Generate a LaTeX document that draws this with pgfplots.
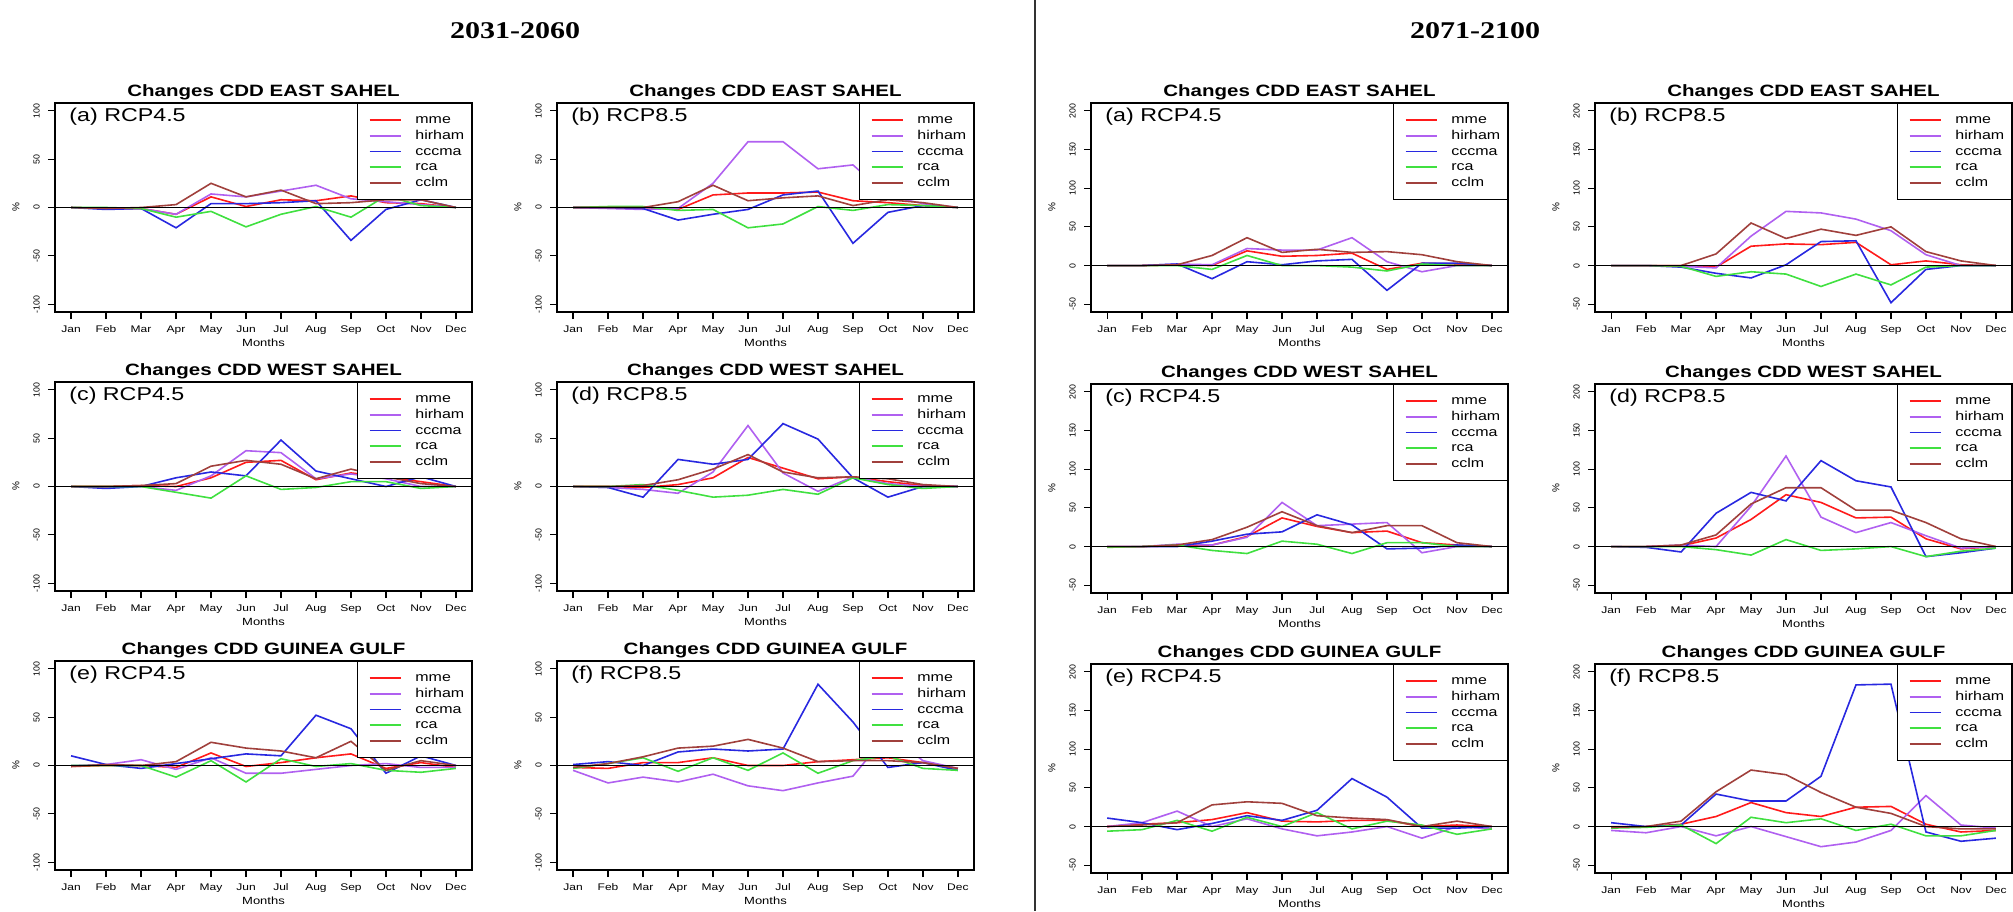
\documentclass[border=0pt]{standalone}
\usepackage{pgfplots}
\usepackage{pgfplotstable}
\pgfplotsset{compat=1.18}
\usepackage{fontspec}
\setmainfont{Liberation Sans}[FakeStretch=1.25]
\newfontfamily\yfont{Liberation Sans}
\newfontfamily\headfont{Liberation Serif}[FakeStretch=1.25]

\definecolor{cmme}{HTML}{FF1A1A}
\definecolor{chir}{HTML}{B060F0}
\definecolor{ccccma}{HTML}{2828E0}
\definecolor{crca}{HTML}{40E040}
\definecolor{ccclm}{HTML}{A0403C}

\newcommand\tickfont{\fontsize{4.8}{5.5}\selectfont}
\newcommand\ytickfont{\yfont\fontsize{4.4}{5}\selectfont}
\newcommand\monthfont{\fontsize{5.2}{6}\selectfont}
\newcommand\pctfont{\yfont\fontsize{5}{6}\selectfont}
\newcommand\titlefont{\bfseries\fontsize{8.2}{9.5}\selectfont}
\newcommand\legfont{\fontsize{6.4}{7.5}\selectfont}
\newcommand\panelfont{\fontsize{9.3}{11}\selectfont}

% 2031-2060
\pgfplotstableread{
m mme hirham cccma rca cclm
0 0 0 0 0 0
1 -1 -1 -2 0 -1
2 -1 -1 -1 -1 0
3 -7 -7 -21 -10 3
4 11 14 4 -4 25
5 1 11 4 -20 11
6 8 17 5 -7 18
7 7 23 7 1 4
8 12 9 -34 -10 5
9 5 6 -2 12 8
10 4 3 8 2 8
11 0 0 0 0 0
}\tabLa
\pgfplotstableread{
m mme hirham cccma rca cclm
0 0 0 0 0 0
1 0 -1 0 1 0
2 0 -2 -1 1 0
3 -2 -1 -13 -3 6
4 13 25 -7 -2 23
5 15 68 -2 -21 7
6 15 68 13 -17 10
7 16 40 17 1 12
8 7 44 -37 -3 2
9 5 12 -5 3 8
10 2 4 2 2 5
11 0 0 0 0 0
}\tabLb
\pgfplotstableread{
m mme hirham cccma rca cclm
0 0 0 0 0 0
1 0 -1 -2 0 0
2 1 0 0 0 1
3 0 -4 9 -6 3
4 9 11 15 -12 21
5 25 37 11 11 27
6 27 35 48 -3 23
7 7 8 16 -1 8
8 14 13 8 5 18
9 10 8 0 5 10
10 5 0 10 -2 3
11 0 0 0 0 0
}\tabLc
\pgfplotstableread{
m mme hirham cccma rca cclm
0 0 0 0 0 0
1 0 -1 -1 0 0
2 -1 -3 -11 2 1
3 2 -7 28 -4 7
4 9 15 23 -11 18
5 30 63 28 -9 33
6 19 14 65 -3 15
7 8 -5 49 -8 9
8 10 10 9 9 10
9 5 3 -11 2 8
10 1 0 0 -2 2
11 0 0 0 0 0
}\tabLd
\pgfplotstableread{
m mme hirham cccma rca cclm
0 -1 0 10 0 -1
1 0 1 1 0 1
2 0 6 -3 0 0
3 -2 -4 2 -12 4
4 13 8 7 5 24
5 -1 -8 12 -17 18
6 3 -8 10 7 15
7 8 -4 52 -1 8
8 12 0 38 2 25
9 -3 2 -8 -5 -5
10 3 -2 10 -7 5
11 -2 -2 0 -3 0
}\tabLe
\pgfplotstableread{
m mme hirham cccma rca cclm
0 -2 -5 1 -3 -2
1 -3 -18 4 2 2
2 3 -12 0 8 9
3 3 -17 14 -6 18
4 8 -9 17 8 20
5 0 -21 15 -5 27
6 0 -26 17 13 18
7 4 -18 84 -8 4
8 6 -11 45 5 5
9 8 33 -2 10 5
10 3 5 3 -3 3
11 -3 -3 -5 -5 -3
}\tabLf
% 2071-2100
\pgfplotstableread{
m mme hirham cccma rca cclm
0 0 0 0 0 0
1 0 0 0 0 0
2 1 2 2 0 1
3 0 1 -17 -5 13
4 19 22 5 13 36
5 12 20 1 0 17
6 13 20 6 0 21
7 16 36 8 -2 17
8 -5 5 -32 -7 18
9 3 -8 3 2 14
10 2 0 3 0 5
11 0 0 0 0 0
}\tabRa
\pgfplotstableread{
m mme hirham cccma rca cclm
0 0 0 0 0 0
1 0 0 0 0 0
2 0 -1 -2 -1 0
3 -2 -3 -10 -14 15
4 25 38 -16 -8 55
5 28 70 1 -11 35
6 27 68 31 -27 47
7 30 60 32 -11 39
8 1 45 -48 -25 50
9 6 14 -5 -2 18
10 1 0 0 0 6
11 0 0 0 0 0
}\tabRb
\pgfplotstableread{
m mme hirham cccma rca cclm
0 0 0 0 -1 0
1 0 0 0 0 0
2 1 3 0 2 2
3 2 2 7 -5 9
4 13 12 16 -9 25
5 37 57 19 7 45
6 26 27 41 3 27
7 18 29 28 -9 18
8 20 31 -3 5 27
9 5 -8 -2 5 27
10 2 0 2 0 5
11 0 0 0 0 0
}\tabRc
\pgfplotstableread{
m mme hirham cccma rca cclm
0 0 0 0 0 0
1 0 0 -1 0 0
2 1 2 -7 0 2
3 11 0 43 -4 15
4 35 52 70 -11 55
5 67 117 59 9 76
6 57 38 111 -5 76
7 37 18 85 -3 47
8 38 31 77 0 47
9 10 14 -13 -13 31
10 -3 -2 -8 -6 10
11 0 0 -2 -2 0
}\tabRd
\pgfplotstableread{
m mme hirham cccma rca cclm
0 0 0 11 -6 0
1 3 5 5 -4 2
2 5 20 -4 8 5
3 9 0 4 -6 28
4 18 10 14 12 32
5 7 -3 8 0 30
6 6 -12 21 18 14
7 8 -7 62 -3 11
8 8 0 38 7 9
9 0 -15 -2 2 0
10 2 0 -2 -10 7
11 0 -3 0 -3 0
}\tabRe
\pgfplotstableread{
m mme hirham cccma rca cclm
0 0 -5 5 -2 -1
1 0 -8 0 -1 0
2 3 0 2 2 7
3 13 -12 42 -22 45
4 31 0 33 12 73
5 18 -13 33 5 67
6 13 -26 65 10 44
7 25 -20 183 -5 25
8 26 -5 184 3 17
9 3 40 -7 -12 0
10 -7 2 -19 -12 -3
11 -5 -2 -15 -5 -3
}\tabRf

\pgfplotsset{
  cdd/.style={
    scale only axis, width=208.5pt, height=104.5pt,
    xmin=-0.46, xmax=11.46,
    xtick={0,...,11},
    xticklabels={Jan,Feb,Mar,Apr,May,Jun,Jul,Aug,Sep,Oct,Nov,Dec},
    tick align=outside, major tick length=3.5pt,
    xtick pos=bottom, ytick pos=left,
    tick style={black, line width=0.6pt},
    axis line style={black, line width=0.8pt},
    xticklabel style={font=\tickfont, inner sep=0pt, anchor=north},
    xticklabel shift=3.3pt,
    yticklabel style={font=\ytickfont, rotate=90, anchor=south, inner sep=0pt},
    yticklabel shift=4pt,
    xlabel={Months},
    xlabel style={font=\monthfont, at={(axis description cs:0.5,0)}, anchor=center, yshift=-15.5pt},
    ylabel={\%},
    ylabel style={font=\pctfont, at={(axis description cs:-0.0935,0.5)}, anchor=center},
    every axis title shift=0pt,
    title style={font=\titlefont, at={(0.5,1)}, anchor=base, yshift=3.2pt, inner sep=0pt},
    legend style={at={(1,1)}, anchor=north east, draw=black, line width=0.6pt, fill=white,
      font=\legfont, inner xsep=0pt, inner ysep=5.3pt, row sep=1.95pt, column sep=7pt,
      cells={anchor=west}, nodes={inner sep=0pt, text height=4.7pt, text depth=1.2pt}},
    legend image code/.code={\path (-5.5pt,0pt); \draw[##1, line width=0.8pt] (0pt,0pt) -- (15.5pt,0pt);},
    every axis plot/.append style={line width=0.8pt},
  },
  cddL/.style={ymin=-108, ymax=108, ytick={-100,-50,0,50,100}, yticklabels={-100,-50,0,50,100}},
  cddR/.style={ymin=-60, ymax=210, ytick={-50,0,50,100,150,200}, yticklabels={-50,0,50,100,150,200}},
}

\newcommand\panel[5]{%
\begin{axis}[cdd,#2,at={#1},anchor=north west,title={#3}]
  \addplot[cmme] table[x=m,y=mme]{#5};
  \addplot[chir] table[x=m,y=hirham]{#5};
  \addplot[ccccma] table[x=m,y=cccma]{#5};
  \addplot[crca] table[x=m,y=rca]{#5};
  \addplot[ccclm] table[x=m,y=cclm]{#5};
  \draw[black, line width=0.7pt] (axis cs:-0.46,0) -- (axis cs:11.46,0);
  \node[anchor=north west, inner sep=0pt, font=\panelfont, xshift=7pt, yshift=-2.5pt] at (rel axis cs:0,1) {#4};
  \legend{\makebox[28pt][l]{mme},\makebox[28pt][l]{hirham},\makebox[28pt][l]{cccma},\makebox[28pt][l]{rca},\makebox[28pt][l]{cclm}}
\end{axis}}

\begin{document}
\begin{tikzpicture}
\path[use as bounding box] (0pt,0pt) rectangle (1006.5pt,-455.5pt);
\draw[black!80, line width=0.6pt] (517.5pt,0pt) -- (517.5pt,-455.5pt);
\node[anchor=base, inner sep=0pt] at (257.5pt,-19pt) {\headfont\bfseries\fontsize{12}{14}\selectfont 2031-2060};
\node[anchor=base, inner sep=0pt] at (737.5pt,-19pt) {\headfont\bfseries\fontsize{12}{14}\selectfont 2071-2100};

\panel{(27.5pt,-51.5pt)}{cddL}{Changes CDD EAST SAHEL}{(a) RCP4.5}{\tabLa}
\panel{(278.5pt,-51.5pt)}{cddL}{Changes CDD EAST SAHEL}{(b) RCP8.5}{\tabLb}
\panel{(27.5pt,-191pt)}{cddL}{Changes CDD WEST SAHEL}{(c) RCP4.5}{\tabLc}
\panel{(278.5pt,-191pt)}{cddL}{Changes CDD WEST SAHEL}{(d) RCP8.5}{\tabLd}
\panel{(27.5pt,-330.5pt)}{cddL}{Changes CDD GUINEA GULF}{(e) RCP4.5}{\tabLe}
\panel{(278.5pt,-330.5pt)}{cddL}{Changes CDD GUINEA GULF}{(f) RCP8.5}{\tabLf}

\panel{(545.5pt,-51.5pt)}{cddR}{Changes CDD EAST SAHEL}{(a) RCP4.5}{\tabRa}
\panel{(797.5pt,-51.5pt)}{cddR}{Changes CDD EAST SAHEL}{(b) RCP8.5}{\tabRb}
\panel{(545.5pt,-192pt)}{cddR}{Changes CDD WEST SAHEL}{(c) RCP4.5}{\tabRc}
\panel{(797.5pt,-192pt)}{cddR}{Changes CDD WEST SAHEL}{(d) RCP8.5}{\tabRd}
\panel{(545.5pt,-332pt)}{cddR}{Changes CDD GUINEA GULF}{(e) RCP4.5}{\tabRe}
\panel{(797.5pt,-332pt)}{cddR}{Changes CDD GUINEA GULF}{(f) RCP8.5}{\tabRf}
\end{tikzpicture}
\end{document}
